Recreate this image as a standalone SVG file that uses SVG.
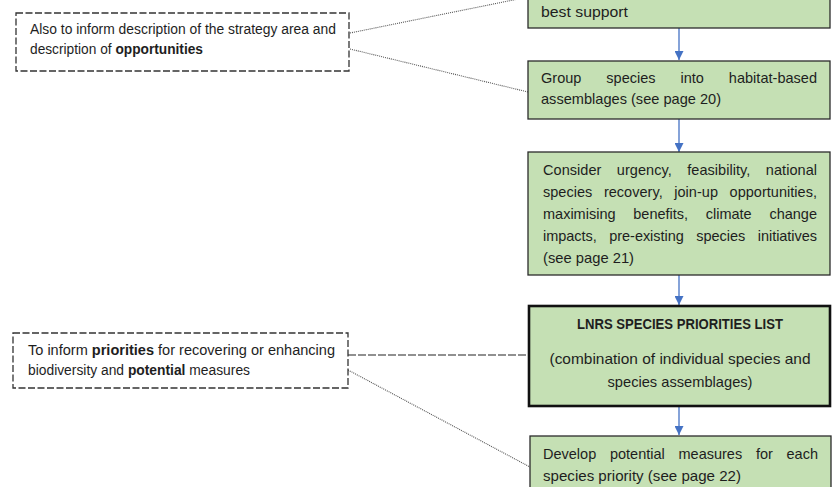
<svg xmlns="http://www.w3.org/2000/svg" width="832" height="487" viewBox="0 0 832 487">
<style>
text{font-family:"Liberation Sans",Arial,sans-serif;font-size:14.5px;fill:#1e1e1e}
.s{font-size:14px}
.b{font-weight:bold}
.g{fill:#c5e0b4;stroke:#2b2b2b;stroke-width:1.3}
.d{fill:#fff;stroke:#333;stroke-width:1.3;stroke-dasharray:7 2.5}
.ar{stroke:#4472c4;stroke-width:1.3;fill:none;marker-end:url(#ah)}
.dot{stroke:#555;stroke-width:1.1;stroke-dasharray:1 1;fill:none}
.dash{stroke:#222;stroke-width:1.2;stroke-dasharray:8 2;fill:none}
</style>
<defs>
<marker id="ah" viewBox="0 0 10 10" refX="10" refY="5" markerWidth="9" markerHeight="9" markerUnits="userSpaceOnUse" orient="auto">
<path d="M0,0 L10,5 L0,10 z" fill="#4472c4"/>
</marker>
</defs>
<rect width="832" height="487" fill="#fff"/>
<g id="connectors">
<line class="ar" x1="679" y1="28" x2="679" y2="60"/>
<line class="ar" x1="679" y1="119" x2="679" y2="152"/>
<line class="ar" x1="679" y1="275" x2="679" y2="305"/>
<line class="ar" x1="679" y1="406" x2="679" y2="435"/>
<line class="dot" x1="350" y1="33" x2="528" y2="-3"/>
<line class="dot" x1="350" y1="49" x2="528" y2="92"/>
<line class="dash" x1="348" y1="355" x2="528" y2="355"/>
<line class="dot" x1="348" y1="370" x2="530" y2="467"/>
</g>
<g id="top-box">
<rect class="g" x="528" y="-10" width="302" height="38"/>
<text x="541" y="17" textLength="87" lengthAdjust="spacingAndGlyphs">best support</text>
</g>
<g id="group-species">
<rect class="g" x="528" y="61" width="302" height="58"/>
<text x="541" y="83" word-spacing="20.8" textLength="276" lengthAdjust="spacing">Group species into habitat-based</text>
<text x="541" y="104" textLength="180" lengthAdjust="spacingAndGlyphs">assemblages (see page 20)</text>
</g>
<g id="consider">
<rect class="g" x="528" y="152" width="302" height="123"/>
<text x="543" y="175" word-spacing="11.3" textLength="274" lengthAdjust="spacing">Consider urgency, feasibility, national</text>
<text x="543" y="197" word-spacing="7.5" textLength="274" lengthAdjust="spacing">species recovery, join-up opportunities,</text>
<text x="543" y="219" word-spacing="13.7" textLength="274" lengthAdjust="spacing">maximising benefits, climate change</text>
<text x="543" y="241" word-spacing="8.6" textLength="274" lengthAdjust="spacing">impacts, pre-existing species initiatives</text>
<text x="543" y="263" textLength="91" lengthAdjust="spacingAndGlyphs">(see page 21)</text>
</g>
<g id="lnrs-list">
<rect x="529" y="306" width="301" height="100" fill="#c5e0b4" stroke="#111" stroke-width="2.6"/>
<text class="b" x="680" y="329" text-anchor="middle" textLength="206" lengthAdjust="spacingAndGlyphs">LNRS SPECIES PRIORITIES LIST</text>
<text x="680" y="364" text-anchor="middle" textLength="261" lengthAdjust="spacingAndGlyphs">(combination of individual species and</text>
<text x="680" y="387" text-anchor="middle" textLength="145" lengthAdjust="spacingAndGlyphs">species assemblages)</text>
</g>
<g id="develop">
<rect class="g" x="530" y="436" width="301" height="60"/>
<text x="543" y="459" word-spacing="9.7" textLength="275" lengthAdjust="spacing">Develop potential measures for each</text>
<text x="543" y="481" textLength="198" lengthAdjust="spacingAndGlyphs">species priority (see page 22)</text>
</g>
<g id="note-strategy">
<rect class="d" x="16" y="13" width="333" height="58"/>
<text class="s" x="30" y="34" textLength="306" lengthAdjust="spacingAndGlyphs">Also to inform description of the strategy area and</text>
<text class="s" x="30" y="54" textLength="173" lengthAdjust="spacingAndGlyphs">description of <tspan class="b">opportunities</tspan></text>
</g>
<g id="note-priorities">
<rect class="d" x="13" y="333" width="335" height="55"/>
<text class="s" x="28" y="355" textLength="307" lengthAdjust="spacingAndGlyphs">To inform <tspan class="b">priorities</tspan> for recovering or enhancing</text>
<text class="s" x="28" y="375" textLength="222" lengthAdjust="spacingAndGlyphs">biodiversity and <tspan class="b">potential</tspan> measures</text>
</g>
</svg>
